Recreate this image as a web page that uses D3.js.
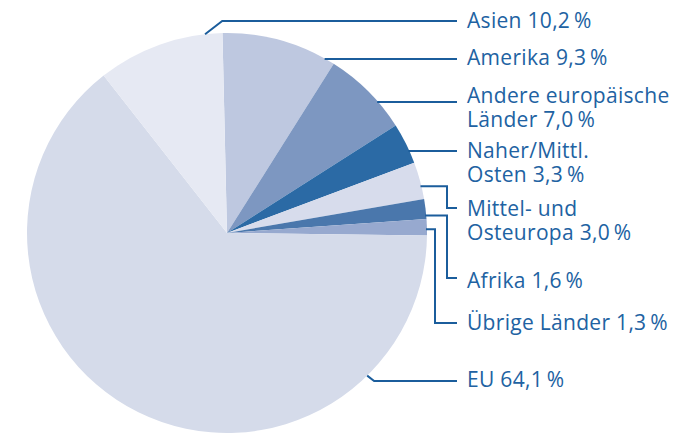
<!DOCTYPE html>
<html>
<head>
<meta charset="utf-8">
<script src="https://cdn.jsdelivr.net/npm/d3@7"></script>
<style>
  body { margin: 0; background: #fff; }
  .label { font-family: "Open Sans", sans-serif; font-size: 21px; letter-spacing: 0.3px; fill: #2162a2; }
  .leader { fill: none; stroke: #1b5d9c; stroke-width: 2; }
</style>
</head>
<body>
<div class="chart"></div>
<script>

// Shares in percent, clockwise from the top of the pie
var categories = ["Amerika", "Andere europäische\nLänder", "Naher/Mittl.\nOsten", "Mittel- und\nOsteuropa",
                  "Afrika", "Übrige Länder", "EU", "Asien"];
var shares = [9.3, 7.0, 3.3, 3.0, 1.6, 1.3, 64.1, 10.2];
var colors = ["#bec8e0", "#7d97c1", "#2b6aa5", "#d7dcec", "#4a77ac", "#97a9cf", "#d5dbea", "#e6e9f3"];

// Label placement (baseline of first line, y of leader line, leader shape)
var labelY = [65, 103, 158, 216, 288, 330, 387, 28];
var leaderY = [59, 102, 151, 208, 278, 323, 381, 21];
var leaderKind = ["flat", "flat", "flat", "elbow", "elbow", "elbow", "diag", "diag"];
var elbowX = [0, 0, 0, 447, 447, 435, 0, 0];
var leaderAngle = [0, 0, 0, 76.5, 85, 88.9, 135.5, -6.3];

var w = 684, h = 434;
var cx = 227, cy = 233, r = 200;
var textX = 467, lineEnd = 457;
var startAngle = -1.3 * Math.PI / 180;

var de = d3.formatLocale({decimal: ",", thousands: ".", grouping: [3], currency: ["", " €"]});
var fmt = de.format(".1f");

var svg = d3.select(".chart")
  .append("svg")
  .attr("width", w)
  .attr("height", h);

var pie = d3.pie()
  .sort(null)
  .startAngle(startAngle)
  .endAngle(startAngle + 2 * Math.PI);

var arc = d3.arc()
  .innerRadius(0)
  .outerRadius(r);

var g = svg.append("g")
  .attr("transform", "translate(" + cx + "," + cy + ")");

// Slices
g.selectAll(".slice")
  .data(pie(shares))
  .enter()
  .append("path")
  .attr("class", "slice")
  .attr("d", arc)
  .style("fill", function(d, i) { return colors[i]; });

// Point on the pie edge for a given angle in degrees (0 = top, clockwise)
function edge(deg) {
    var a = deg * Math.PI / 180;
    return [cx + r * Math.sin(a), cy - r * Math.cos(a)];
}

var line = d3.line();

// Leader lines
svg.selectAll(".leader")
  .data(categories)
  .enter()
  .append("path")
  .attr("class", "leader")
  .attr("d", function(d, i) {
      var ly = leaderY[i];
      var pts;
      if (leaderKind[i] === "flat") {
          var x0 = cx + Math.sqrt(r * r - (ly - cy) * (ly - cy));
          pts = [[x0 - 1, ly], [lineEnd, ly]];
      } else if (leaderKind[i] === "elbow") {
          var p = edge(leaderAngle[i]);
          pts = [[p[0] - 1, p[1]], [elbowX[i], p[1]], [elbowX[i], ly], [lineEnd, ly]];
      } else {
          var q = edge(leaderAngle[i]);
          var dx = Math.abs(ly - q[1]) * 1.3;
          pts = [q, [q[0] + dx, ly], [lineEnd, ly]];
      }
      return line(pts);
  });

// Labels
svg.selectAll(".label")
  .data(categories)
  .enter()
  .append("text")
  .attr("class", "label")
  .attr("x", textX)
  .attr("y", function(d, i) { return labelY[i]; })
  .each(function(d, i) {
      var lines = d.split("\n");
      lines[lines.length - 1] += " " + fmt(shares[i]) + "\u2009%";
      var t = d3.select(this);
      lines.forEach(function(l, j) {
          t.append("tspan")
            .attr("x", textX)
            .attr("dy", j === 0 ? 0 : 24)
            .text(l);
      });
  });

</script>
</body>
</html>
